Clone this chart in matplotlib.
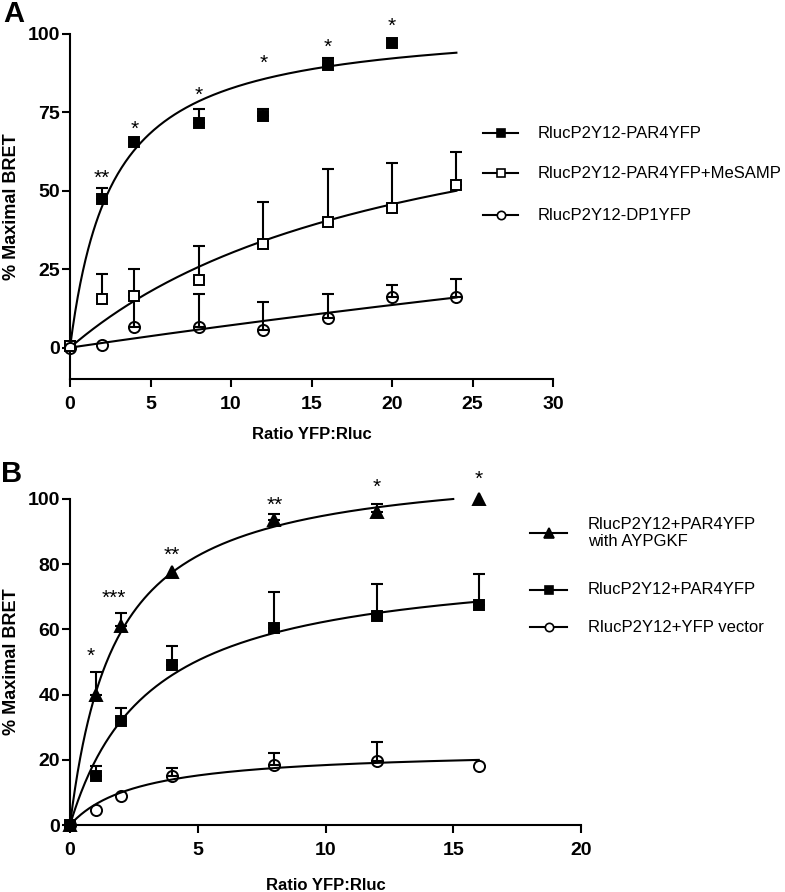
import numpy as np
import matplotlib
matplotlib.use('Agg')
import matplotlib.pyplot as plt
from matplotlib.lines import Line2D

plt.rcParams['font.family'] = ['Liberation Sans', 'DejaVu Sans']

# Panel A data
x_a = [0, 2, 4, 8, 12, 16, 20, 24]
par4_a = [0.5, 47.5, 65.5, 71.5, 74, 90, 97]
par4_a_err = [0, 3.5, 0, 4.5, 2, 2.5, 0]
mesamp_a = [0.5, 15.5, 16.5, 21.5, 33, 40, 44.5, 52]
mesamp_a_err = [0, 8, 8.5, 11, 13.5, 17, 14.5, 10.5]
dp1_a = [0, 1, 6.5, 6.5, 5.5, 9.5, 16, 16]
dp1_a_err = [0, 0, 10, 10.5, 9, 7.5, 4, 6]
stars_a = ['**', '*', '*', '*', '*', '*']
stars_a_x = [2, 4, 8, 12, 16, 20]
stars_a_y = [55.6, 71.2, 81.9, 92.2, 97.2, 104]
labels_a = ['RlucP2Y12-PAR4YFP', 'RlucP2Y12-PAR4YFP+MeSAMP', 'RlucP2Y12-DP1YFP']
# one-site fits (Bmax, Kd)
fit_a = [(104.3, 2.62), (94.4, 21.3), (136, 180)]

# Panel B data
x_b = [0, 1, 2, 4, 8, 12, 16]
tri_b = [0, 40, 61, 77.5, 93.5, 96, 100]
tri_b_err = [0, 7, 4, 0, 2, 2.5, 0]
sq_b = [0, 15, 32, 49, 60.5, 64, 67.5]
sq_b_err = [0, 3, 4, 6, 11, 10, 9.5]
circ_b = [0, 4.5, 9, 15, 18.5, 19.5, 18]
circ_b_err = [0, 0, 0, 2.5, 3.5, 6, 0]
stars_b = ['*', '***', '**', '**', '*', '*']
stars_b_x = [0.8, 1.7, 4, 8, 12, 16]
stars_b_y = [53.2, 70.9, 84.1, 99.7, 105.1, 107.4]
labels_b = ['RlucP2Y12+PAR4YFP\nwith AYPGKF', 'RlucP2Y12+PAR4YFP', 'RlucP2Y12+YFP vector']
fit_b = [(111.8, 1.77, 15), (81.9, 3.12, 16), (23.3, 2.67, 16)]

W, H = 785, 892
fig = plt.figure(figsize=(W / 100, H / 100), dpi=100)


def box(l, r, t, b):
    return [l / W, 1 - b / H, (r - l) / W, (b - t) / H]


def style_axes(ax):
    for s in ['top', 'right']:
        ax.spines[s].set_visible(False)
    for s in ['left', 'bottom']:
        ax.spines[s].set_linewidth(1.5)
    ax.tick_params(width=1.5, length=6, direction='out')
    ax.tick_params(axis='y', pad=1, labelsize=14)
    ax.tick_params(axis='x', pad=6, labelsize=14)
    for t in ax.get_xticklabels() + ax.get_yticklabels():
        t.set_fontweight('bold')


def series(ax, x, y, err, marker, mfc, ms):
    x = np.asarray(x[:len(y)], dtype=float)
    y = np.asarray(y, dtype=float)
    err = np.asarray(err, dtype=float)
    m = err > 0
    ax.errorbar(x[m], y[m], yerr=[np.zeros(m.sum()), err[m]], fmt='none',
                ecolor='black', elinewidth=1.5, capsize=4.5, capthick=1.5,
                clip_on=False, zorder=2)
    ax.plot(x, y, linestyle='none', marker=marker, ms=ms, mfc=mfc, mec='black',
            mew=1.4, clip_on=False, zorder=3)


def curve(ax, bmax, kd, xmax):
    xs = np.linspace(0, xmax, 300)
    ax.plot(xs, bmax * xs / (kd + xs), color='black', lw=1.5, clip_on=False, zorder=1)


def legend_row(x0, x1, y, marker, mfc, ms, label, tx):
    # hand placed legend entry, in pixels from the top-left corner
    fig.add_artist(Line2D([x0 / W, x1 / W], [1 - y / H, 1 - y / H], color='black', lw=1.5))
    fig.add_artist(Line2D([(x0 + x1) / 2 / W], [1 - y / H], marker=marker, ms=ms, mfc=mfc,
                          mec='black', mew=1.2, linestyle='none'))
    fig.text(tx / W, 1 - y / H, label, fontsize=12, va='center', ha='left', linespacing=1.1)


# ---------- Panel A ----------
ax = fig.add_axes(box(70, 553, 34, 379))
for bmax, kd in fit_a:
    curve(ax, bmax, kd, 24)
series(ax, x_a, par4_a, par4_a_err, 's', 'black', 7.5)
series(ax, x_a, mesamp_a, mesamp_a_err, 's', 'white', 7.5)
series(ax, x_a, dp1_a, dp1_a_err, 'o', 'none', 8)
for s, xx, yy in zip(stars_a, stars_a_x, stars_a_y):
    ax.text(xx, yy - 1.5, s, ha='center', va='center', fontsize=15)
ax.set_xlim(0, 30)
ax.set_ylim(-10, 100)
ax.set_xticks([0, 5, 10, 15, 20, 25, 30])
ax.set_yticks([0, 25, 50, 75, 100])
style_axes(ax)
ax.set_xlabel('Ratio YFP:Rluc', fontsize=12, fontweight='bold', labelpad=10)
ax.set_ylabel('% Maximal BRET', fontsize=13, fontweight='bold', labelpad=6)
legend_row(483, 518, 133, 's', 'black', 6, labels_a[0], 538)
legend_row(483, 518, 173, 's', 'white', 6, labels_a[1], 538)
legend_row(483, 518, 215, 'o', 'white', 6, labels_a[2], 538)
fig.text(3 / W, 1 - 0 / H, 'A', fontsize=21, fontweight='bold', va='top', ha='left')

# ---------- Panel B ----------
ax = fig.add_axes(box(70, 581, 499, 825))
for bmax, kd, xmax in fit_b:
    curve(ax, bmax, kd, xmax)
series(ax, x_b, tri_b, tri_b_err, '^', 'black', 8.5)
series(ax, x_b, sq_b, sq_b_err, 's', 'black', 7.5)
series(ax, x_b, circ_b, circ_b_err, 'o', 'none', 8)
for s, xx, yy in zip(stars_b, stars_b_x, stars_b_y):
    ax.text(xx, yy - 1.5, s, ha='center', va='center', fontsize=15)
ax.set_xlim(0, 20)
ax.set_ylim(0, 100)
ax.set_xticks([0, 5, 10, 15, 20])
ax.set_yticks([0, 20, 40, 60, 80, 100])
style_axes(ax)
ax.set_xlabel('Ratio YFP:Rluc', fontsize=12, fontweight='bold', labelpad=14)
ax.set_ylabel('% Maximal BRET', fontsize=13, fontweight='bold', labelpad=6)
legend_row(530, 567, 533, '^', 'black', 6.5, labels_b[0], 588)
legend_row(530, 567, 590, 's', 'black', 6, labels_b[1], 588)
legend_row(530, 567, 627, 'o', 'white', 6, labels_b[2], 588)
fig.text(1 / W, 1 - 460 / H, 'B', fontsize=21, fontweight='bold', va='top', ha='left')

fig.savefig('out.png', dpi=100)
